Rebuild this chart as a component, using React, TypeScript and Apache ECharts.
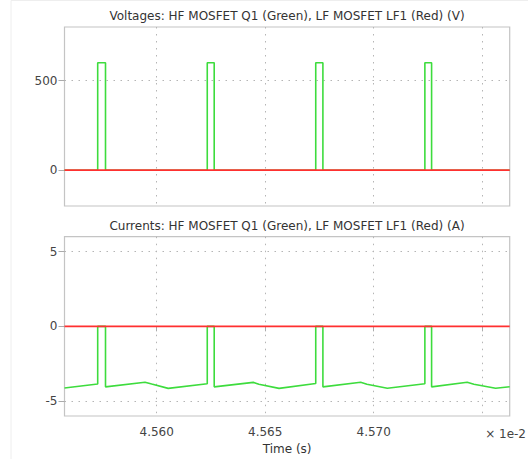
import React, { useEffect, useRef } from "react";
import * as echarts from "echarts";

// Time values are in units of 1e-2 s (axis shows "× 1e-2").
const tMin = 4.55575;
const tMax = 4.57627;

const timeTicks = [4.56, 4.565, 4.57, 4.575];
const timeLabels = [4.56, 4.565, 4.57];
const voltTicks = [0, 500];
const currTicks = [-5, 0, 5];

// HF MOSFET Q1 drain voltage (V): short 600 V pulses
const hfVoltT = [
  4.55575, 4.55728, 4.55728, 4.55764, 4.55764,
  4.56233, 4.56233, 4.56265, 4.56265,
  4.56733, 4.56733, 4.56766, 4.56766,
  4.57236, 4.57236, 4.57267, 4.57267, 4.57627,
];
const hfVoltV = [
  0, 0, 600, 600, 0,
  0, 600, 600, 0,
  0, 600, 600, 0,
  0, 600, 600, 0, 0,
];

// HF MOSFET Q1 current (A)
const hfCurrT = [
  4.55575, 4.55728, 4.55728, 4.55764, 4.55764, 4.55946, 4.55977, 4.56053,
  4.56233, 4.56233, 4.56265, 4.56265, 4.56445, 4.56471, 4.56564,
  4.56733, 4.56733, 4.56766, 4.56766, 4.5694, 4.56969, 4.57063,
  4.57236, 4.57236, 4.57267, 4.57267, 4.57431, 4.57462, 4.57562, 4.57627,
];
const hfCurrA = [
  -4.13, -3.86, 0, 0, -4.05, -3.74, -3.86, -4.15,
  -3.84, 0, 0, -4.05, -3.75, -3.87, -4.15,
  -3.83, 0, 0, -4.05, -3.74, -3.87, -4.14,
  -3.84, 0, 0, -4.05, -3.74, -3.87, -4.14, -4.04,
];

// LF MOSFET LF1 stays at zero in both plots
const lfT = [tMin, tMax];
const lfVoltV = [0, 0];
const lfCurrA = [0, 0];

const zip = (xs: number[], ys: number[]) => xs.map((x, i) => [x, ys[i]]);

const GREEN = "#3ddc3d";
const RED = "#ff3030";
const FONT = "DejaVu Sans";

const gridLine = { show: true, lineStyle: { color: "#b5b5b5", type: [1.5, 5.5], width: 1 } };

export default function App() {
  const ref = useRef<HTMLDivElement>(null);

  useEffect(() => {
    if (!ref.current) return;
    const chart = echarts.init(ref.current, undefined, { renderer: "svg" });

    const xAxisBase = {
      type: "value" as const,
      min: tMin,
      max: tMax,
      axisLine: { show: false },
      splitLine: gridLine,
    };

    chart.setOption({
      animation: false,
      backgroundColor: "#ffffff",
      textStyle: { fontFamily: FONT },
      grid: [
        { left: 64.5, top: 27, width: 445.2, height: 179, show: true, borderColor: "#c4c4c4", borderWidth: 1.2, backgroundColor: "transparent" },
        { left: 64.5, top: 236.7, width: 445.2, height: 179.3, show: true, borderColor: "#c4c4c4", borderWidth: 1.2, backgroundColor: "transparent" },
      ],
      xAxis: [
        {
          ...xAxisBase,
          gridIndex: 0,
          axisTick: { show: false, customValues: timeTicks },
          axisLabel: { show: false, customValues: timeLabels },
        },
        {
          ...xAxisBase,
          gridIndex: 1,
          axisTick: { show: true, length: 5, lineStyle: { color: "#aaaaaa" }, customValues: timeTicks },
          axisLabel: {
            show: true,
            customValues: timeLabels,
            margin: 10,
            color: "#444444",
            fontSize: 12,
            fontFamily: FONT,
            formatter: (v: number) => v.toFixed(3),
          },
          name: "Time (s)",
          nameLocation: "middle",
          nameGap: 27,
          nameTextStyle: { color: "#333333", fontSize: 12, fontFamily: FONT },
        },
      ],
      yAxis: [
        {
          type: "value",
          gridIndex: 0,
          min: -200,
          max: 800,
          axisLine: { show: false },
          axisTick: { show: true, length: 6, lineStyle: { color: "#aaaaaa" }, customValues: voltTicks },
          axisLabel: { customValues: voltTicks, margin: 7, color: "#444444", fontSize: 12, fontFamily: FONT },
          splitLine: gridLine,
        },
        {
          type: "value",
          gridIndex: 1,
          min: -6,
          max: 6,
          axisLine: { show: false },
          axisTick: { show: true, length: 6, lineStyle: { color: "#aaaaaa" }, customValues: currTicks },
          axisLabel: { customValues: currTicks, margin: 7, color: "#444444", fontSize: 12, fontFamily: FONT },
          splitLine: gridLine,
        },
      ],
      graphic: [
        {
          type: "rect",
          shape: { x: 11, y: 0.5, width: 600, height: 600 },
          style: { fill: "none", stroke: "#eeeeee", lineWidth: 1 },
          silent: true,
          z: -1,
        },
        {
          type: "text",
          x: 287,
          y: 15.5,
          style: {
            text: "Voltages: HF MOSFET Q1 (Green), LF MOSFET LF1 (Red) (V)",
            align: "center",
            verticalAlign: "middle",
            font: `12px '${FONT}'`,
            fill: "#333333",
          },
        },
        {
          type: "text",
          x: 287,
          y: 225.5,
          style: {
            text: "Currents: HF MOSFET Q1 (Green), LF MOSFET LF1 (Red) (A)",
            align: "center",
            verticalAlign: "middle",
            font: `12px '${FONT}'`,
            fill: "#333333",
          },
        },
        {
          type: "text",
          x: 526,
          y: 434,
          style: {
            text: "× 1e-2",
            align: "right",
            verticalAlign: "middle",
            font: `12px '${FONT}'`,
            fill: "#444444",
          },
        },
      ],
      series: [
        {
          type: "line",
          xAxisIndex: 0,
          yAxisIndex: 0,
          data: zip(hfVoltT, hfVoltV),
          showSymbol: false,
          lineStyle: { color: GREEN, width: 1.6 },
          z: 2,
        },
        {
          type: "line",
          xAxisIndex: 0,
          yAxisIndex: 0,
          data: zip(lfT, lfVoltV),
          showSymbol: false,
          lineStyle: { color: RED, width: 1.8 },
          z: 3,
        },
        {
          type: "line",
          xAxisIndex: 1,
          yAxisIndex: 1,
          data: zip(hfCurrT, hfCurrA),
          showSymbol: false,
          lineStyle: { color: GREEN, width: 1.6 },
          z: 2,
        },
        {
          type: "line",
          xAxisIndex: 1,
          yAxisIndex: 1,
          data: zip(lfT, lfCurrA),
          showSymbol: false,
          lineStyle: { color: RED, width: 1.8 },
          z: 3,
        },
      ],
    });

    return () => chart.dispose();
  }, []);

  return (
    <div
      ref={ref}
      style={{ position: "fixed", left: 0, top: 0, width: 528, height: 459 }}
    />
  );
}
